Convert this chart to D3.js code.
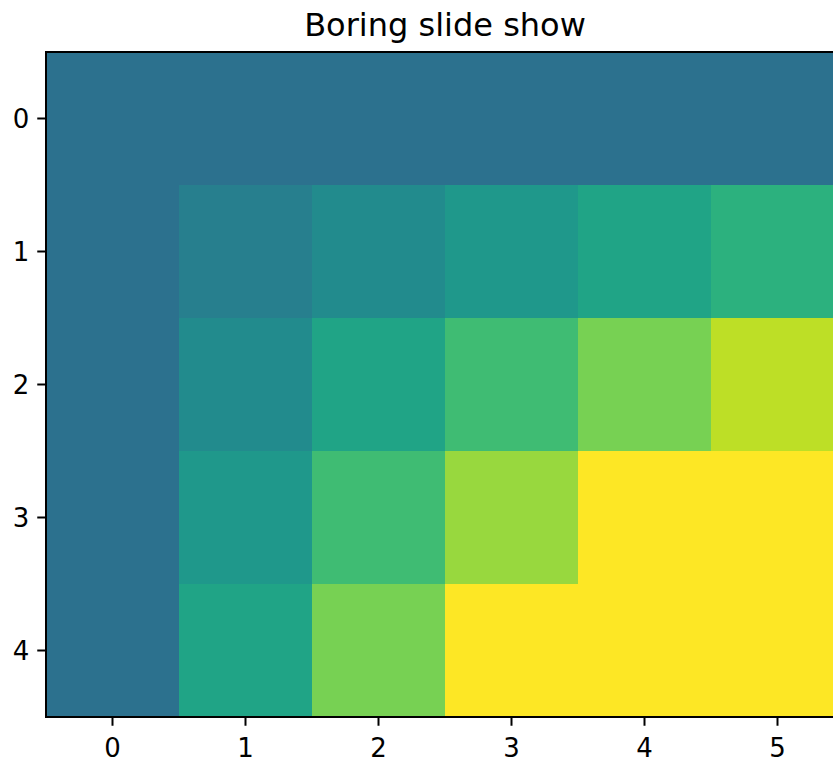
<!DOCTYPE html>
<html>
<head>
<meta charset="utf-8">
<script src="https://cdn.jsdelivr.net/npm/d3@7"></script>
<style>
  html, body { margin: 0; padding: 0; background: #fff; overflow: hidden; }
  svg { display: block; font-family: "DejaVu Sans", sans-serif; }
</style>
</head>
<body>
<div id="chart"></div>
<script>
// ---- data ----
const title = "Boring slide show";
const rowLabels = ["0", "1", "2", "3", "4"];
const colLabels = ["0", "1", "2", "3", "4", "5"];
const row0 = [0, 0, 0, 0, 0, 0];
const row1 = [0, 1, 2, 3, 4, 5];
const row2 = [0, 2, 4, 6, 8, 10];
const row3 = [0, 3, 6, 9, 12, 15];
const row4 = [0, 4, 8, 12, 16, 20];
const matrix = [row0, row1, row2, row3, row4];
const colorMin = -7.1, colorMax = 11.9;

// ---- layout ----
const W = 833, H = 760;
const mLeft = 46, mTop = 52;
const cell = 133;
const plotW = cell * colLabels.length, plotH = cell * rowLabels.length;

const svg = d3.select("#chart").append("svg").attr("width", W).attr("height", H);

const x = d3.scaleBand().domain(colLabels).range([mLeft, mLeft + plotW]).padding(0);
const y = d3.scaleBand().domain(rowLabels).range([mTop, mTop + plotH]).padding(0);
const color = d3.scaleSequential(d3.interpolateViridis).domain([colorMin, colorMax]).clamp(true);

const cells = [];
matrix.forEach((row, i) => row.forEach((v, j) => cells.push({r: rowLabels[i], c: colLabels[j], v})));

svg.append("g").selectAll("rect").data(cells).join("rect")
  .attr("x", d => x(d.c))
  .attr("y", d => y(d.r))
  .attr("width", x.bandwidth() + 0.5)
  .attr("height", y.bandwidth() + 0.5)
  .attr("fill", d => color(d.v))
  .attr("shape-rendering", "crispEdges");

// axes
const xAxis = d3.axisBottom(x).tickSize(8.75).tickPadding(8).tickSizeOuter(0);
const yAxis = d3.axisLeft(y).tickSize(8.75).tickPadding(8).tickSizeOuter(0);

const gx = svg.append("g").attr("transform", `translate(0,${mTop + plotH})`).call(xAxis);
const gy = svg.append("g").attr("transform", `translate(${mLeft},0)`).call(yAxis);
[gx, gy].forEach(g => {
  g.select(".domain").remove();
  g.selectAll(".tick line").attr("stroke", "#000").attr("stroke-width", 2);
  g.selectAll(".tick text").attr("fill", "#000").attr("font-size", 26)
    .attr("font-family", "DejaVu Sans, sans-serif");
});
gx.selectAll(".tick text").attr("dy", null).attr("y", 39.5);
gy.selectAll(".tick text").attr("dy", "0.36em");

// spines
svg.append("rect")
  .attr("x", mLeft).attr("y", mTop).attr("width", plotW).attr("height", plotH)
  .attr("fill", "none").attr("stroke", "#000").attr("stroke-width", 2);

// title
svg.append("text")
  .attr("x", mLeft + plotW / 2).attr("y", 36)
  .attr("text-anchor", "middle").attr("font-size", 32).attr("fill", "#000")
  .text(title);
</script>
</body>
</html>
